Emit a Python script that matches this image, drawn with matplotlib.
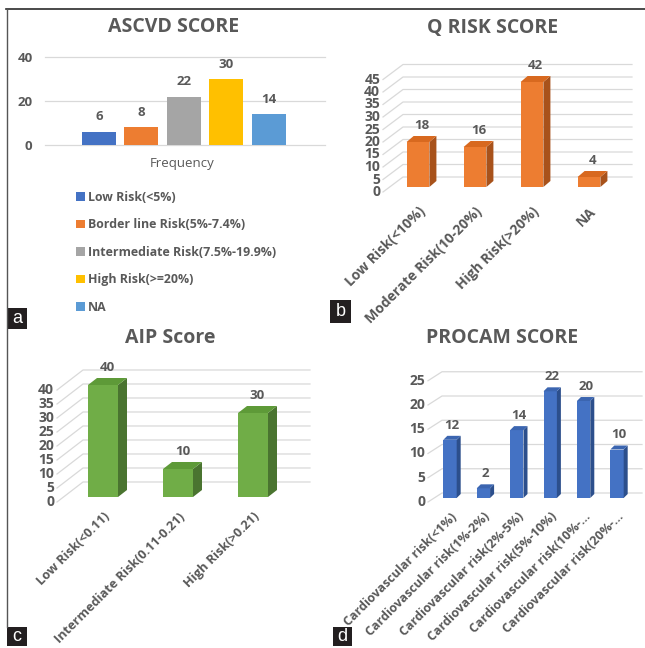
import numpy as np
import matplotlib
matplotlib.use('Agg')
import matplotlib.pyplot as plt
from matplotlib.patches import Polygon, Rectangle
from matplotlib.lines import Line2D

plt.rcParams['font.family'] = ['Open Sans', 'DejaVu Sans']

TXT = '#595959'
GRID = '#d9d9d9'

# ASCVD score (single category, one bar per risk group)
ascvd_labels = ['Low Risk(<5%)', 'Border line Risk(5%-7.4%)',
                'Intermediate Risk(7.5%-19.9%)', 'High Risk(>=20%)', 'NA']
ascvd_values = [6, 8, 22, 30, 14]
ascvd_colors = ['#4472C4', '#ED7D31', '#A5A5A5', '#FFC000', '#5B9BD5']
ascvd_ticks = [0, 20, 40]

# Q risk score
qrisk_labels = ['Low Risk(<10%)', 'Moderate Risk(10-20%)', 'High Risk(>20%)', 'NA']
qrisk_values = [18, 16, 42, 4]
qrisk_ticks = list(range(0, 50, 5))

# AIP score
aip_labels = ['Low Risk(<0.11)', 'Intermediate Risk(0.11-0.21)', 'High Risk(>0.21)']
aip_values = [40, 10, 30]
aip_ticks = list(range(0, 45, 5))

# PROCAM score
procam_labels = ['Cardiovascular risk(<1%)', 'Cardiovascular risk(1%-2%)',
                 'Cardiovascular risk(2%-5%)', 'Cardiovascular risk(5%-10%)',
                 'Cardiovascular risk(10%-...', 'Cardiovascular risk(20%-...']
procam_values = [12, 2, 14, 22, 20, 10]
procam_ticks = list(range(0, 30, 5))

W, H = 645, 648
fig = plt.figure(figsize=(W / 100, H / 100), dpi=100)


def fx(px):
    return px / W


def fy(py):
    return 1 - py / H


def axes_px(x0, y0, x1, y1):
    return fig.add_axes([fx(x0), fy(y1), (x1 - x0) / W, (y1 - y0) / H])


def bars3d(ax, labels, values, ticks, colors, xf, xb, xr, yf, yb, w, ddx, ddy,
           tick_fs=9.5, val_fs=9.5, lab_fs=8.5):
    front, side, top = colors
    x = np.arange(len(values))
    # floor/back wall grid drawn with a slanted depth segment
    for t in ticks:
        ax.plot([xf, xb, xr], [t + yf, t + yb, t + yb], color=GRID, lw=0.9,
                zorder=1, clip_on=False)
        ax.annotate(str(t), (xf, t + yf), xytext=(-2, 0), textcoords='offset points',
                    ha='right', va='center', fontsize=tick_fs, fontweight='bold',
                    color=TXT)
    ax.bar(x, values, width=w, color=front, zorder=3)
    for xi, v in zip(x, values):
        r = xi + w / 2
        ax.add_patch(Polygon([(r, 0), (r + ddx, ddy), (r + ddx, v + ddy), (r, v)],
                             closed=True, fc=side, ec='none', zorder=3))
        ax.add_patch(Polygon([(xi - w / 2, v), (r, v), (r + ddx, v + ddy),
                              (xi - w / 2 + ddx, v + ddy)],
                             closed=True, fc=top, ec='none', zorder=3))
        ax.annotate(str(v), (xi + ddx / 2, v + ddy), xytext=(0, 3),
                    textcoords='offset points', ha='center', va='bottom',
                    fontsize=val_fs, fontweight='bold', color=TXT)
    ax.set_xticks(x)
    ax.set_xticklabels(labels, rotation=45, ha='right', rotation_mode='anchor',
                       fontsize=lab_fs, fontweight='bold', color=TXT)
    ax.tick_params(axis='x', length=0, pad=3)
    ax.set_yticks([])
    for s in ax.spines.values():
        s.set_visible(False)
    ax.patch.set_alpha(0)


# ---- a: ASCVD ----
ax = axes_px(45, 57, 325, 145)
handles = []
for i, (v, c) in enumerate(zip(ascvd_values, ascvd_colors)):
    b = ax.bar(i, v, width=0.8, color=c, zorder=3)
    handles.append(b)
    ax.annotate(str(v), (i, v), xytext=(0, 6), textcoords='offset points',
                ha='center', va='bottom', fontsize=9.5, fontweight='bold', color=TXT)
ax.set_xlim(-1.27, 5.32)
ax.set_ylim(0, 40)
ax.set_yticks(ascvd_ticks)
ax.set_xticks([])
ax.yaxis.grid(True, color=GRID, lw=0.9)
for gl in ax.get_ygridlines():
    gl.set_clip_on(False)
ax.set_axisbelow(True)
ax.tick_params(axis='y', length=0, pad=9, labelsize=9.5, labelcolor=TXT)
for lbl in ax.get_yticklabels():
    lbl.set_fontweight('bold')
for s in ax.spines.values():
    s.set_visible(False)
fig.text(fx(182), fy(163), 'Frequency', ha='center', va='center', fontsize=9.5,
         color=TXT)
fig.legend(handles, ascvd_labels, loc='upper left', bbox_to_anchor=(fx(76), fy(191)),
           frameon=False, labelspacing=1.17, handlelength=0.7,
           handleheight=0.7, handletextpad=0.25, borderaxespad=0, borderpad=0,
           labelcolor=TXT, prop={'weight': 'bold', 'size': 8.9})
fig.text(fx(174), fy(27), 'ASCVD SCORE', ha='center', va='center', fontsize=14,
         fontweight='bold', color=TXT)

# ---- b: Q risk ----
ax = axes_px(383, 55, 640, 200)
ax.set_xlim((383 - 418) / 57, (640 - 418) / 57)
ax.set_ylim((187 - 200) / 2.5, (187 - 55) / 2.5)
bars3d(ax, qrisk_labels, qrisk_values, qrisk_ticks,
       ('#ED7D31', '#A8521B', '#D8691F'),
       xf=(383 - 418) / 57, xb=(403 - 418) / 57, xr=(632 - 418) / 57,
       yf=-2.0, yb=4.0, w=0.40, ddx=0.123, ddy=2.4, tick_fs=10, lab_fs=10)
fig.text(fx(493), fy(28), 'Q RISK SCORE', ha='center', va='center', fontsize=14,
         fontweight='bold', color=TXT)

# ---- c: AIP ----
ax = axes_px(57, 360, 318, 506)
ax.set_xlim((57 - 103) / 75, (318 - 103) / 75)
ax.set_ylim((497 - 506) / 2.8, (497 - 360) / 2.8)
bars3d(ax, aip_labels, aip_values, aip_ticks,
       ('#70AD47', '#4A7430', '#5E9A38'),
       xf=(57 - 103) / 75, xb=(83 - 103) / 75, xr=(310 - 103) / 75,
       yf=-1.79, yb=5.36, w=0.40, ddx=0.12, ddy=2.5, tick_fs=10, lab_fs=9.2)
fig.text(fx(170), fy(338), 'AIP Score', ha='center', va='center', fontsize=14,
         fontweight='bold', color=TXT)

# ---- d: PROCAM ----
ax = axes_px(428, 360, 645, 506)
ax.set_xlim((428 - 450) / 33.4, (645 - 450) / 33.4)
ax.set_ylim((498 - 506) / 4.85, (498 - 360) / 4.85)
bars3d(ax, procam_labels, procam_values, procam_ticks,
       ('#4472C4', '#2C4F8C', '#3B65B0'),
       xf=(428 - 450) / 33.4, xb=(442 - 450) / 33.4, xr=(642 - 450) / 33.4,
       yf=-0.82, yb=1.03, w=0.40, ddx=0.12, ddy=0.82, tick_fs=10, lab_fs=9)
fig.text(fx(502), fy(338), 'PROCAM SCORE', ha='center', va='center', fontsize=14,
         fontweight='bold', color=TXT)

# frame lines (top and left)
fig.add_artist(Line2D([fx(6), fx(645)], [fy(9), fy(9)], color='#2b2b2b', lw=1.2))
fig.add_artist(Line2D([fx(7), fx(7)], [fy(9), fy(627)], color='#555555', lw=1.0))

# panel letters
for letter, (x0, y0, x1, y1) in zip('abcd', [(7, 308, 27, 329), (330, 300, 351, 323),
                                             (7, 627, 27, 646), (333, 627, 352, 646)]):
    fig.add_artist(Rectangle((fx(x0), fy(y1)), (x1 - x0) / W, (y1 - y0) / H,
                             transform=fig.transFigure, fc='#231f20', ec='none'))
    fig.text(fx((x0 + x1) / 2), fy((y0 + y1) / 2), letter, ha='center', va='center',
             color='white', fontsize=13, family='Liberation Sans')

fig.savefig('out.png', dpi=100)
